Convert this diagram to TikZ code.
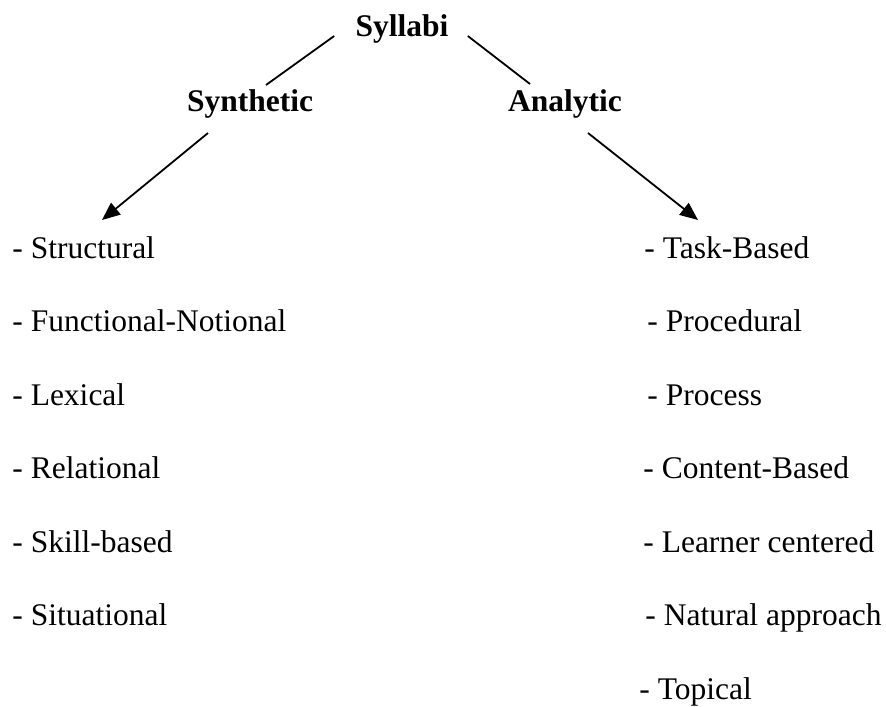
\documentclass[tikz,border=0pt]{standalone}
\usepackage{fontspec}
\setmainfont{Liberation Serif}
\usetikzlibrary{arrows.meta}

\begin{document}
\begin{tikzpicture}[x=0.5pt,y=-0.5pt,
	every node/.style={inner sep=0pt,font=\fontsize{15.75}{18}\selectfont},
	head/.style={anchor=base,font=\fontsize{15.75}{18}\selectfont\bfseries},
	item/.style={anchor=base west},
	link/.style={line width=0.9pt},
	arr/.style={line width=0.9pt,-{Triangle[length=9pt,width=7.5pt]}}]
	\useasboundingbox (0,0) rectangle (886,706);
	
	\node[head] at (402,37) (syl) {Syllabi};
	\node[head] at (250,112) (syn) {Synthetic};
	\node[head] at (565,112) (ana) {Analytic};
	
	% synthetic list
	\foreach \t [count=\i] in {Structural, Functional-Notional, Lexical, Relational, Skill-based, Situational}
		\node[item] at (12,{258+73.5*(\i-1)}) (s\i) {- \t};
	
	% analytic list
	\foreach \x/\t [count=\i] in {644/Task-Based, 647/Procedural, 647/Process, 643/Content-Based, 643/Learner centered, 645/Natural approach, 639/Topical}
		\node[item] at (\x,{258+73.5*(\i-1)}) (a\i) {- \t};
	
	\draw[link] ([shift={(-21,-1)}]syl.base west) -- ([shift={(16,-27)}]syn.base);
	\draw[link] ([shift={(19,-1)}]syl.base east) -- ([shift={(-35,-28)}]ana.base);
	\draw[arr] ([shift={(-42,21)}]syn.base) -- ([shift={(90,-38)}]s1.base west);
	\draw[arr] ([shift={(23,21)}]ana.base) -- ([shift={(54,-38)}]a1.base west);
\end{tikzpicture}
\end{document}
